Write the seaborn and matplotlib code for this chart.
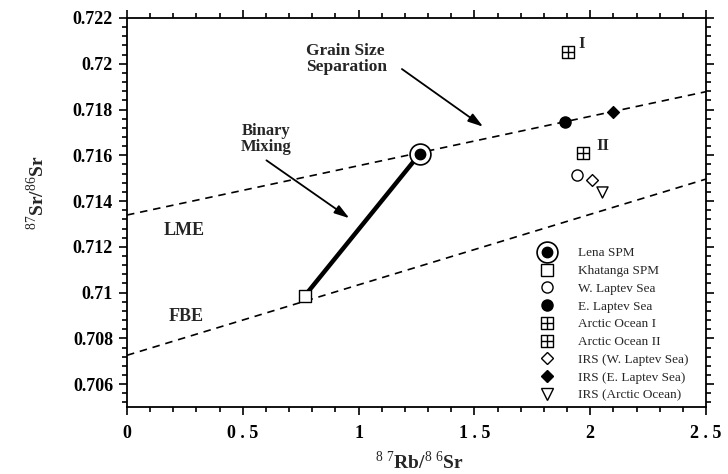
import matplotlib
matplotlib.use("Agg")
import matplotlib.pyplot as plt
import seaborn as sns
from matplotlib.path import Path
from matplotlib.lines import Line2D
from matplotlib.ticker import MultipleLocator

# ---------------- data ----------------
lena_x = [1.263]
lena_y = [0.71605]
khatanga_x = [0.767]
khatanga_y = [0.70985]
w_laptev_x = [1.941]
w_laptev_y = [0.71512]
e_laptev_x = [1.892]
e_laptev_y = [0.71745]
arctic1_x = [1.905]
arctic1_y = [0.72051]
arctic2_x = [1.970]
arctic2_y = [0.71612]
irs_w_x = [2.006]
irs_w_y = [0.71490]
irs_e_x = [2.100]
irs_e_y = [0.71790]
irs_arctic_x = [2.049]
irs_arctic_y = [0.71440]

lme_x = [0.0, 2.5]
lme_y = [0.71339, 0.71878]
fbe_x = [0.0, 2.5]
fbe_y = [0.70726, 0.71496]
mix_x = [0.767, 1.263]
mix_y = [0.70985, 0.71605]

x_ticks = [0, 0.5, 1, 1.5, 2, 2.5]
x_tick_labels = ["0", "0 . 5", "1", "1 . 5", "2", "2 . 5"]
y_ticks = [0.706, 0.708, 0.710, 0.712, 0.714, 0.716, 0.718, 0.720, 0.722]
y_tick_labels = ["0.706", "0.708", "0.71", "0.712", "0.714", "0.716", "0.718", "0.72", "0.722"]
legend_labels = ["Lena SPM", "Khatanga SPM", "W. Laptev Sea", "E. Laptev Sea",
                 "Arctic Ocean I", "Arctic Ocean II", "IRS (W. Laptev Sea)",
                 "IRS (E. Laptev Sea)", "IRS (Arctic Ocean)"]

# ---------------- style ----------------
sns.set_style("ticks")
plt.rcParams["font.family"] = ["Liberation Serif", "DejaVu Serif"]
plt.rcParams["mathtext.fontset"] = "custom"
plt.rcParams["mathtext.rm"] = "Liberation Serif"
plt.rcParams["mathtext.bf"] = "Liberation Serif:bold"
plt.rcParams["axes.edgecolor"] = "black"
plt.rcParams["xtick.color"] = "black"
plt.rcParams["ytick.color"] = "black"

fig = plt.figure(figsize=(7.28, 4.74), dpi=100)
ax = fig.add_axes([127 / 728, 67 / 474, 579 / 728, 389 / 474])

# square with cross marker
boxplus = Path(
    [(-1, -1), (1, -1), (1, 1), (-1, 1), (-1, -1), (0, -1), (0, 1), (-1, 0), (1, 0)],
    [Path.MOVETO, Path.LINETO, Path.LINETO, Path.LINETO, Path.CLOSEPOLY,
     Path.MOVETO, Path.LINETO, Path.MOVETO, Path.LINETO],
)

# ---------------- lines ----------------
sns.lineplot(x=lme_x, y=lme_y, ax=ax, color="black", lw=1.2, linestyle=(0, (4.5, 3.5)), zorder=2)
sns.lineplot(x=fbe_x, y=fbe_y, ax=ax, color="black", lw=1.2, linestyle=(0, (4.5, 3.5)), zorder=2)
sns.lineplot(x=mix_x, y=mix_y, ax=ax, color="black", lw=3.2, zorder=3,
             solid_capstyle="butt")

# ---------------- points ----------------
def pts(x, y, marker, size, filled, lw=1.0):
    sns.scatterplot(x=x, y=y, ax=ax, marker=marker, s=size ** 2,
                    color="black",
                    facecolor="black" if filled else "white",
                    edgecolor="black", linewidth=lw, zorder=5)

pts(lena_x, lena_y, "o", 15, False, 1.2)
pts(lena_x, lena_y, "o", 7.5, True)
pts(khatanga_x, khatanga_y, "s", 8, False)
pts(w_laptev_x, w_laptev_y, "o", 8, False)
pts(e_laptev_x, e_laptev_y, "o", 8, True)
pts(arctic1_x, arctic1_y, boxplus, 8.5, False)
pts(arctic2_x, arctic2_y, boxplus, 8.5, False)
pts(irs_w_x, irs_w_y, "D", 6, False)
pts(irs_e_x, irs_e_y, "D", 6, True)
pts(irs_arctic_x, irs_arctic_y, "v", 8, False)

# ---------------- annotations ----------------
arrow = dict(arrowstyle="-|>,head_length=0.9,head_width=0.28", color="black",
             lw=1.3, shrinkA=0, shrinkB=0)
ax.annotate("", xy=(1.5375, 0.71725), xytext=(1.187, 0.71977), arrowprops=arrow)
ax.text(0.772, 0.72020, "Grain Size\nSeparation", ha="left", va="center",
        fontsize=12.5, fontweight="bold", linespacing=1.05)
ax.annotate("", xy=(0.960, 0.71325), xytext=(0.602, 0.71578), arrowprops=arrow)
ax.text(0.602, 0.71670, "Binary\nMixing", ha="center", va="center",
        fontsize=12, fontweight="bold", linespacing=1.0)
ax.text(0.249, 0.71270, "LME", ha="center", va="center", fontsize=13, fontweight="bold")
ax.text(0.257, 0.70896, "FBE", ha="center", va="center", fontsize=13, fontweight="bold")
ax.text(1.95, 0.72085, "I", ha="left", va="center", fontsize=12, fontweight="bold")
ax.text(2.025, 0.71640, "II", ha="left", va="center", fontsize=12, fontweight="bold")

# ---------------- axes ----------------
ax.set_xlim(0, 2.5)
ax.set_ylim(0.705, 0.722)
ax.set_xticks(x_ticks)
ax.set_xticklabels(x_tick_labels, fontsize=13, fontweight="bold")
ax.set_yticks(y_ticks)
ax.set_yticklabels(y_tick_labels, fontsize=13, fontweight="bold")
ax.xaxis.set_minor_locator(MultipleLocator(0.1))
ax.yaxis.set_minor_locator(MultipleLocator(0.0004))
ax.tick_params(which="both", direction="out", top=True, right=True, width=1.2)
ax.tick_params(which="major", length=6)
ax.tick_params(which="minor", length=3.5)
ax.tick_params(axis="x", pad=7)
ax.tick_params(axis="y", pad=4)
for sp in ax.spines.values():
    sp.set_linewidth(1.3)
    sp.set_visible(True)

ax.set_xlabel(r"$^{8\ 7}$Rb/$^{8\ 6}$Sr", fontsize=14, fontweight="bold")
ax.set_ylabel(r"$^{87}$Sr/$^{86}$Sr", fontsize=14, fontweight="bold")
ax.xaxis.set_label_coords(0.506, -0.112)
ax.yaxis.set_label_coords(-0.136, 0.55)

# ---------------- legend ----------------
def h(marker, ms, filled, mew=1.0):
    return Line2D([], [], ls="none", marker=marker, ms=ms,
                  mfc="black" if filled else "white", mec="black", mew=mew)

handles = [
    (h("o", 15, False, 1.2), h("o", 7.5, True)),
    h("s", 8, False),
    h("o", 8, False),
    h("o", 8, True),
    h(boxplus, 8.5, False),
    h(boxplus, 8.5, False),
    h("D", 6, False),
    h("D", 6, True),
    h("v", 8, False),
]
ax.legend(handles, legend_labels, loc="upper left", bbox_to_anchor=(0.708, 0.411),
          frameon=False, fontsize=9.5, handlelength=1.5, handletextpad=1.6,
          labelspacing=0.42, borderpad=0, borderaxespad=0)

fig.savefig("out.png", dpi=100)
